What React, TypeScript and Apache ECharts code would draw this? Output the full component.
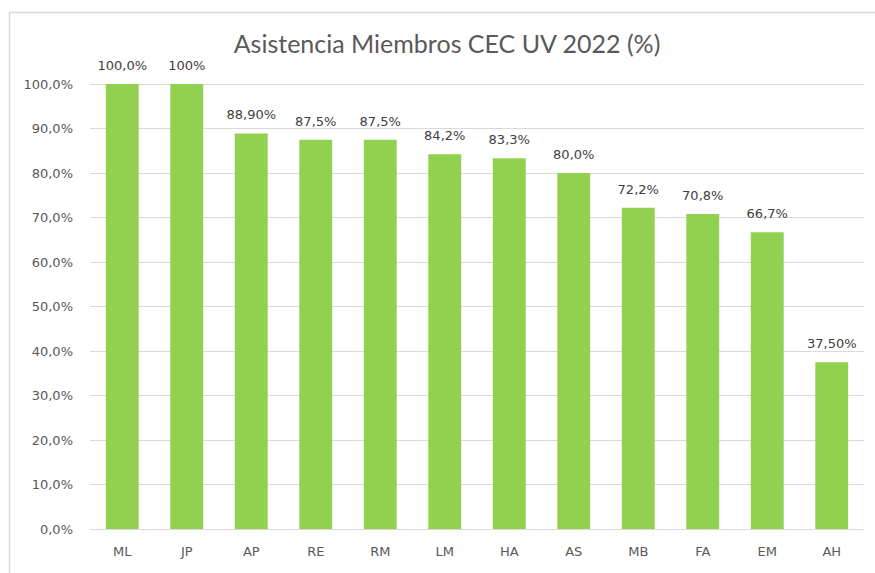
import React, { useEffect, useRef } from "react";
import * as echarts from "echarts";

const categories = ["ML", "JP", "AP", "RE", "RM", "LM", "HA", "AS", "MB", "FA", "EM", "AH"];
const values = [100, 100, 88.9, 87.5, 87.5, 84.2, 83.3, 80.0, 72.2, 70.8, 66.7, 37.5];
const valueLabels = ["100,0%", "100%", "88,90%", "87,5%", "87,5%", "84,2%", "83,3%", "80,0%", "72,2%", "70,8%", "66,7%", "37,50%"];
const titleText = "Asistencia Miembros CEC UV 2022 (%)";

export default function App() {
  const ref = useRef<HTMLDivElement>(null);
  useEffect(() => {
    if (!ref.current) return;
    const chart = echarts.init(ref.current, undefined, { renderer: "svg" });
    chart.setOption({
      animation: false,
      backgroundColor: "#ffffff",
      title: {
        text: titleText,
        left: 442,
        textAlign: "center",
        top: 25,
        textStyle: { fontFamily: "Lato", fontSize: 25, fontWeight: "normal", color: "#595959" },
      },
      graphic: [
        {
          type: "rect",
          shape: { x: 9.5, y: 12.5, width: 900, height: 600 },
          style: { fill: "none", stroke: "#d9d9d9", lineWidth: 1.5 },
          silent: true,
        },
      ],
      grid: { left: 90, right: 11, top: 84, bottom: 44 },
      xAxis: {
        type: "category",
        data: categories,
        axisLine: { lineStyle: { color: "#d9d9d9", width: 1 } },
        axisTick: { show: false },
        axisLabel: { color: "#595959", fontSize: 13, fontFamily: "DejaVu Sans", margin: 16 },
      },
      yAxis: {
        type: "value",
        min: 0,
        max: 100,
        interval: 10,
        axisLine: { show: false },
        axisTick: { show: false },
        splitLine: { lineStyle: { color: "#d9d9d9", width: 1 } },
        axisLabel: {
          color: "#595959",
          fontSize: 13,
          fontFamily: "DejaVu Sans",
          margin: 17,
          formatter: (v: number) => v.toFixed(1).replace(".", ",") + "%",
        },
      },
      series: [
        {
          type: "bar",
          data: values,
          barCategoryGap: "49%",
          itemStyle: { color: "#92D050" },
          label: {
            show: true,
            position: "top",
            distance: 12,
            color: "#404040",
            fontSize: 13,
            fontFamily: "DejaVu Sans",
            formatter: (p: any) => valueLabels[p.dataIndex],
          },
        },
      ],
    });
    return () => chart.dispose();
  }, []);
  return (
    <div
      ref={ref}
      style={{ position: "fixed", left: 0, top: 0, width: 875, height: 573 }}
    />
  );
}
